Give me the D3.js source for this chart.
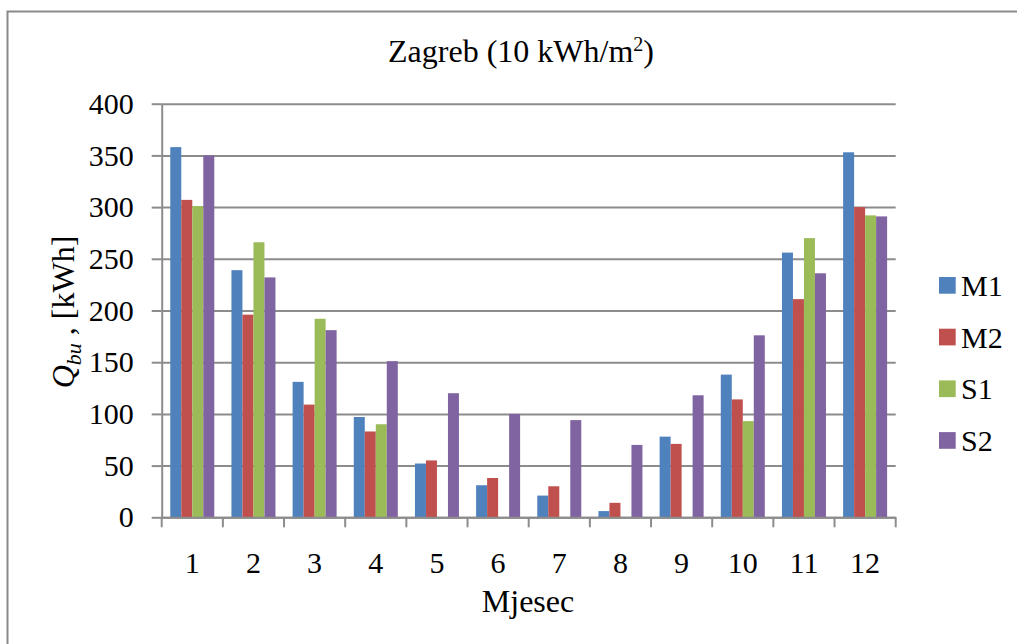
<!DOCTYPE html>
<html><head><meta charset="utf-8">
<script src="https://cdn.jsdelivr.net/npm/d3@7"></script>
<style>
body{margin:0;background:#fff;}
svg text{font-family:"Times New Roman","Liberation Serif",Times,"DejaVu Serif",serif !important;fill:#000;}
</style></head>
<body><svg id="c" width="1017" height="644"></svg>
<script>
const months = ["1","2","3","4","5","6","7","8","9","10","11","12"];
const seriesNames = ["M1","M2","S1","S2"];
const M1 = [358, 239, 131, 97, 52, 31, 21, 6, 78, 138, 256, 353];
const M2 = [307, 196, 109, 83, 55, 38, 30, 14, 71, 114, 211, 300];
const S1 = [301, 266, 192, 90, 0, 0, 0, 0, 0, 93, 270, 292];
const S2 = [350, 232, 181, 151, 120, 100, 94, 70, 118, 176, 236, 291];
const yTicks = [0, 50, 100, 150, 200, 250, 300, 350, 400];
const colors = ["#4F81BD", "#C0504D", "#9BBB59", "#8064A2"];
const title = "Zagreb (10 kWh/m";
const xTitle = "Mjesec";

const values = [M1, M2, S1, S2];
const svg = d3.select("#c");
const L = 161.7, R = 895.7, T = 103.7, B = 517.3;

// outer frame
svg.append("path").attr("d", "M7.5,650 V11.5 H1030").attr("fill", "none")
  .attr("stroke", "#8a8a8a").attr("stroke-width", 2);

const x0 = d3.scaleBand().domain(months).range([L, R]).padding(0);
const x1 = d3.scaleBand().domain(seriesNames).range([0, x0.bandwidth()]).paddingInner(0).paddingOuter(0.78);
const y = d3.scaleLinear().domain([0, 400]).range([B, T]);

// gridlines
const grid = svg.append("g").attr("transform", `translate(${L},0)`)
  .call(d3.axisLeft(y).tickValues(yTicks).tickSize(-(R - L)).tickFormat(""));
grid.select(".domain").remove();
grid.selectAll("line").attr("stroke", "#8c8c8c").attr("stroke-width", 2);

// y axis ticks + labels
const ya = svg.append("g").attr("transform", `translate(${L},0)`)
  .call(d3.axisLeft(y).tickValues(yTicks).tickSize(10).tickPadding(18).tickSizeOuter(0));
ya.attr("font-family", null);
ya.select(".domain").attr("stroke", "#8c8c8c").attr("stroke-width", 2);
ya.selectAll("line").attr("stroke", "#8c8c8c").attr("stroke-width", 2);
ya.selectAll("text").style("font-size", "30px").attr("fill", "#000");

// bars
const g = svg.append("g");
months.forEach((m, i) => {
  seriesNames.forEach((s, j) => {
    const v = values[j][i];
    if (v <= 0) return;
    g.append("rect")
      .attr("x", x0(m) + x1(s))
      .attr("width", x1.bandwidth())
      .attr("y", y(v))
      .attr("height", y(0) - y(v))
      .attr("fill", colors[j]);
  });
});

// x axis
const xa = svg.append("g").attr("transform", `translate(0,${B})`)
  .call(d3.axisBottom(x0).tickSize(0).tickPadding(34));
xa.attr("font-family", null);
xa.select(".domain").attr("stroke", "#8c8c8c").attr("stroke-width", 2);
xa.selectAll("text").style("font-size", "30px").attr("fill", "#000");
// category boundary ticks
const bounds = months.map(m => x0(m)).concat([R]);
xa.selectAll(".bt").data(bounds).enter().append("line")
  .attr("x1", d => d).attr("x2", d => d).attr("y1", 0).attr("y2", 10)
  .attr("stroke", "#8c8c8c").attr("stroke-width", 2);

// title
const tt = svg.append("text").attr("x", 521).attr("y", 62).attr("text-anchor", "middle")
  .style("font-size", "32px");
tt.append("tspan").text(title);
tt.append("tspan").attr("dy", -11).style("font-size", "20px").text("2");
tt.append("tspan").attr("dy", 11).text(")");

// x title
svg.append("text").attr("x", 528).attr("y", 612).attr("text-anchor", "middle")
  .style("font-size", "32px").text(xTitle);

// y title
const yt = svg.append("text").attr("transform", "translate(74,312) rotate(-90)")
  .attr("text-anchor", "middle").style("font-size", "32px");
yt.append("tspan").style("font-style", "italic").text("Q");
yt.append("tspan").style("font-style", "italic").style("font-size", "22px").attr("dy", 7).text("bu");
yt.append("tspan").attr("dy", -7).text(" , [kWh]");

// legend
const lg = svg.append("g");
seriesNames.forEach((s, j) => {
  const yy = 277 + j * 51.7;
  lg.append("rect").attr("x", 939).attr("y", yy).attr("width", 16.7).attr("height", 16.7).attr("fill", colors[j]);
  lg.append("text").attr("x", 961).attr("y", yy + 19).style("font-size", "30px").text(s);
});
</script></body></html>
